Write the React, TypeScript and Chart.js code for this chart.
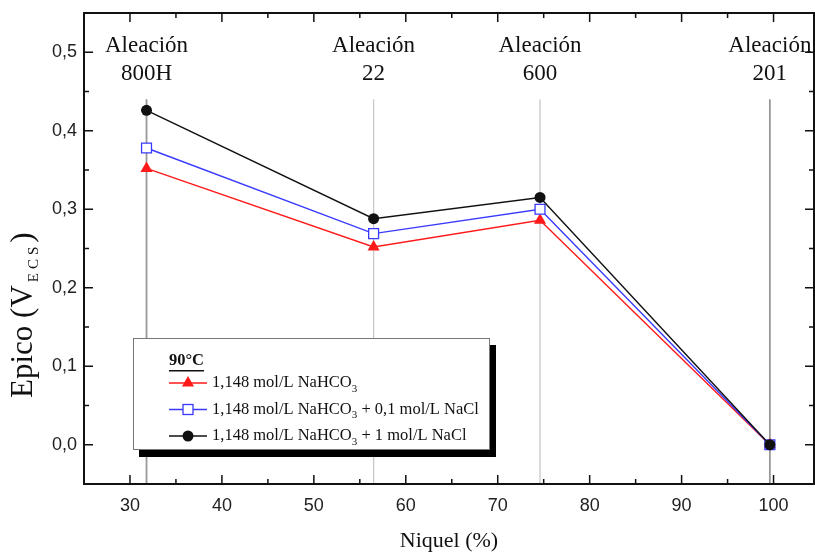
import React, { useEffect, useRef } from 'react';
import { Chart, registerables } from 'chart.js';

Chart.register(...registerables);

// Nickel content of each alloy (%) and peak potentials (V vs ECS) at 90 °C
const alloyNames = ['800H', '22', '600', '201'];
const nickelPct = [31.8, 56.5, 74.6, 99.6];
const epicoNaHCO3 = [0.352, 0.252, 0.286, 0.0];
const epicoNaCl01 = [0.378, 0.269, 0.3, 0.0];
const epicoNaCl1 = [0.426, 0.288, 0.315, 0.0];

const xMajorTicks = [30, 40, 50, 60, 70, 80, 90, 100];
const xMinorTicks = [35, 45, 55, 65, 75, 85, 95];
const yMajorTicks = [0.0, 0.1, 0.2, 0.3, 0.4, 0.5];
const yMinorTicks = [0.05, 0.15, 0.25, 0.35, 0.45];

const X_MIN = 25;
const X_MAX = 104.4;
const Y_MIN = -0.05;
const Y_MAX = 0.55;
const GUIDE_TOP = 0.44;

const SERIF = '"Liberation Serif", "Times New Roman", serif';
const SANS = '"Liberation Sans", Arial, sans-serif';

const RED = '#ff1a1a';
const BLUE = '#3a3aff';
const BLACK = '#111111';

type Run = { text: string; sub?: boolean };

function drawRuns(
  ctx: CanvasRenderingContext2D,
  x: number,
  y: number,
  runs: Run[],
  mainFont: string,
  subFont: string,
  subShift: number,
) {
  let cx = x;
  for (const r of runs) {
    ctx.font = r.sub ? subFont : mainFont;
    ctx.fillText(r.text, cx, r.sub ? y + subShift : y);
    cx += ctx.measureText(r.text).width;
  }
  return cx - x;
}

function drawMarker(ctx: CanvasRenderingContext2D, kind: string, x: number, y: number) {
  ctx.save();
  ctx.lineWidth = 1.3;
  if (kind === 'triangle') {
    const r = 7;
    ctx.fillStyle = RED;
    ctx.beginPath();
    ctx.moveTo(x, y - r);
    ctx.lineTo(x + r * 0.866, y + r * 0.5);
    ctx.lineTo(x - r * 0.866, y + r * 0.5);
    ctx.closePath();
    ctx.fill();
  } else if (kind === 'rect') {
    const s = 5;
    ctx.fillStyle = '#fff';
    ctx.strokeStyle = BLUE;
    ctx.fillRect(x - s, y - s, 2 * s, 2 * s);
    ctx.strokeRect(x - s, y - s, 2 * s, 2 * s);
  } else {
    ctx.fillStyle = BLACK;
    ctx.beginPath();
    ctx.arc(x, y, 5.5, 0, Math.PI * 2);
    ctx.fill();
  }
  ctx.restore();
}

const legendRows: { color: string; marker: string; runs: Run[] }[] = [
  {
    color: RED,
    marker: 'triangle',
    runs: [{ text: '1,148 mol/L NaHCO' }, { text: '3', sub: true }],
  },
  {
    color: BLUE,
    marker: 'rect',
    runs: [{ text: '1,148 mol/L NaHCO' }, { text: '3', sub: true }, { text: ' + 0,1 mol/L NaCl' }],
  },
  {
    color: BLACK,
    marker: 'circle',
    runs: [{ text: '1,148 mol/L NaHCO' }, { text: '3', sub: true }, { text: ' + 1 mol/L NaCl' }],
  },
];

const decorPlugin = {
  id: 'decor',
  afterDraw(chart: any) {
    const { ctx, chartArea: a, scales } = chart;
    const xs = scales.x;
    const ys = scales.y;
    ctx.save();

    // frame
    ctx.strokeStyle = '#111';
    ctx.lineWidth = 2;
    ctx.strokeRect(a.left, a.top, a.right - a.left, a.bottom - a.top);

    // inward ticks on all four sides
    ctx.lineWidth = 1.5;
    const tickX = (v: number, len: number) => {
      const px = xs.getPixelForValue(v);
      ctx.beginPath();
      ctx.moveTo(px, a.bottom);
      ctx.lineTo(px, a.bottom - len);
      ctx.moveTo(px, a.top);
      ctx.lineTo(px, a.top + len);
      ctx.stroke();
    };
    const tickY = (v: number, len: number) => {
      const py = ys.getPixelForValue(v);
      ctx.beginPath();
      ctx.moveTo(a.left, py);
      ctx.lineTo(a.left + len, py);
      ctx.moveTo(a.right, py);
      ctx.lineTo(a.right - len, py);
      ctx.stroke();
    };
    xMajorTicks.forEach((v) => tickX(v, 9));
    xMinorTicks.forEach((v) => tickX(v, 5));
    yMajorTicks.forEach((v) => tickY(v, 9));
    yMinorTicks.forEach((v) => tickY(v, 5));

    // alloy names above each guide line
    ctx.fillStyle = '#111';
    ctx.textAlign = 'center';
    ctx.textBaseline = 'middle';
    ctx.font = `23px ${SERIF}`;
    alloyNames.forEach((name, i) => {
      const px = xs.getPixelForValue(nickelPct[i]);
      ctx.fillText('Aleación', px, 46);
      ctx.fillText(name, px, 74);
    });

    // x axis title
    ctx.font = `22px ${SERIF}`;
    ctx.fillText('Niquel (%)', (a.left + a.right) / 2, 541);

    // y axis title with subscript, rotated
    ctx.save();
    ctx.translate(32, 398);
    ctx.rotate(-Math.PI / 2);
    ctx.textAlign = 'left';
    ctx.textBaseline = 'alphabetic';
    let w = drawRuns(ctx, 0, 0, [{ text: 'Epico (V' }], `31px ${SERIF}`, `15px ${SERIF}`, 6);
    ctx.font = `15px ${SERIF}`;
    (ctx as any).letterSpacing = '4px';
    ctx.fillText('ECS', w + 3, 6);
    w += 3 + ctx.measureText('ECS').width;
    (ctx as any).letterSpacing = '0px';
    ctx.font = `31px ${SERIF}`;
    ctx.fillText(')', w, 0);
    ctx.restore();

    // legend box with drop shadow
    const bx = 133;
    const by = 338;
    const bw = 356;
    const bh = 111;
    ctx.fillStyle = '#000';
    ctx.fillRect(bx + 6, by + 7, bw + 1, bh + 1);
    ctx.fillStyle = '#fff';
    ctx.fillRect(bx, by, bw, bh);
    ctx.strokeStyle = '#777';
    ctx.lineWidth = 1;
    ctx.strokeRect(bx + 0.5, by + 0.5, bw, bh);

    ctx.textAlign = 'left';
    ctx.textBaseline = 'middle';
    ctx.fillStyle = '#111';
    ctx.font = `bold 16.5px ${SERIF}`;
    ctx.fillText('90°C', 169, 361);
    const tw = ctx.measureText('90°C').width;
    ctx.fillRect(169, 370, tw, 1.5);

    const rowY = [383, 409.5, 436];
    legendRows.forEach((row, i) => {
      const y = rowY[i];
      ctx.strokeStyle = row.color;
      ctx.lineWidth = 1.5;
      ctx.beginPath();
      ctx.moveTo(169, y);
      ctx.lineTo(207, y);
      ctx.stroke();
      drawMarker(ctx, row.marker, 188, y);
      ctx.fillStyle = '#111';
      drawRuns(ctx, 212, y, row.runs, `16.5px ${SERIF}`, `11px ${SERIF}`, 6);
    });

    ctx.restore();
  },
};

const guideColors = ['#999', '#c8c8c8', '#c8c8c8', '#999'];

export default function App() {
  const canvasRef = useRef<HTMLCanvasElement | null>(null);

  useEffect(() => {
    const canvas = canvasRef.current;
    if (!canvas) return;

    const toPoints = (ys: number[]) => ys.map((y, i) => ({ x: nickelPct[i], y }));

    const guides = nickelPct.map((x, i) => ({
      data: [
        { x, y: GUIDE_TOP },
        { x, y: Y_MIN },
      ],
      showLine: true,
      borderColor: guideColors[i],
      borderWidth: i === 0 || i === 3 ? 1.8 : 1.3,
      pointRadius: 0,
      order: 10,
    }));

    const chart = new Chart(canvas, {
      type: 'scatter',
      data: {
        datasets: [
          {
            label: '1,148 mol/L NaHCO3 + 1 mol/L NaCl',
            data: toPoints(epicoNaCl1),
            showLine: true,
            borderColor: BLACK,
            borderWidth: 1.4,
            backgroundColor: BLACK,
            pointStyle: 'circle',
            pointRadius: 5.5,
            pointBorderWidth: 0,
            order: 0,
          },
          {
            label: '1,148 mol/L NaHCO3 + 0,1 mol/L NaCl',
            data: toPoints(epicoNaCl01),
            showLine: true,
            borderColor: BLUE,
            borderWidth: 1.4,
            backgroundColor: '#fff',
            pointBorderColor: BLUE,
            pointBorderWidth: 1.3,
            pointStyle: 'rect',
            pointRadius: 7,
            order: 1,
          },
          {
            label: '1,148 mol/L NaHCO3',
            data: toPoints(epicoNaHCO3),
            showLine: true,
            borderColor: RED,
            borderWidth: 1.4,
            backgroundColor: RED,
            pointBorderWidth: 0,
            pointStyle: 'triangle',
            pointRadius: 7,
            order: 2,
          },
          ...guides,
        ] as any,
      },
      options: {
        responsive: false,
        animation: false,
        devicePixelRatio: 1,
        layout: { autoPadding: false, padding: { top: 13, right: 1, left: 0, bottom: 0 } },
        plugins: {
          legend: { display: false },
          tooltip: { enabled: false },
        },
        scales: {
          x: {
            type: 'linear',
            min: X_MIN,
            max: X_MAX,
            afterFit: (scale: any) => {
              scale.height = 69;
              scale.paddingLeft = 0;
              scale.paddingRight = 0;
            },
            afterBuildTicks: (scale: any) => {
              scale.ticks = xMajorTicks.map((v) => ({ value: v }));
            },
            grid: { display: false, drawTicks: false },
            border: { display: false },
            ticks: {
              padding: 11,
              color: '#222',
              font: { family: SANS, size: 18 },
              maxRotation: 0,
              callback: (v: any) => String(v),
            },
          },
          y: {
            type: 'linear',
            min: Y_MIN,
            max: Y_MAX,
            afterFit: (scale: any) => {
              scale.width = 84;
              scale.paddingTop = 0;
              scale.paddingBottom = 0;
            },
            afterBuildTicks: (scale: any) => {
              scale.ticks = yMajorTicks.map((v) => ({ value: v }));
            },
            grid: { display: false, drawTicks: false },
            border: { display: false },
            ticks: {
              padding: 7,
              color: '#222',
              font: { family: SANS, size: 18 },
              callback: (v: any) => Number(v).toFixed(1).replace('.', ','),
            },
          },
        },
      },
      plugins: [decorPlugin],
    });

    return () => chart.destroy();
  }, []);

  return (
    <div style={{ position: 'fixed', left: 0, top: 0, width: 815, height: 553, background: '#fff' }}>
      <canvas ref={canvasRef} width={815} height={553} style={{ display: 'block' }} />
    </div>
  );
}
